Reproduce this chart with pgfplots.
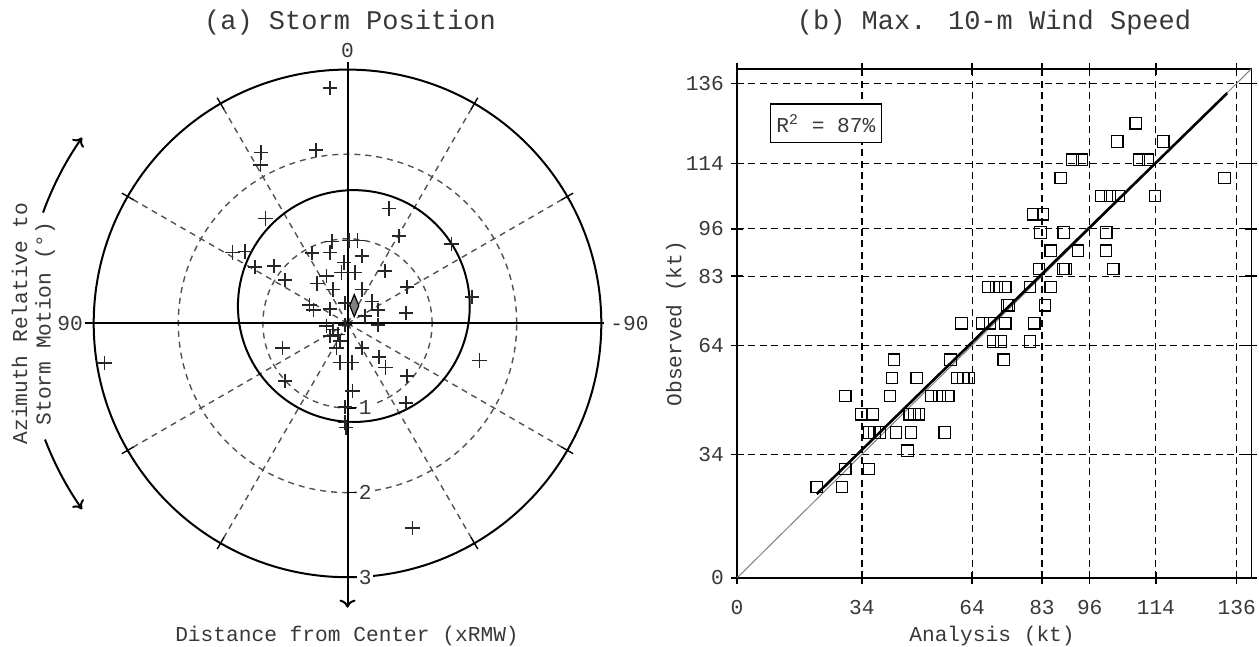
\documentclass[border=0pt]{standalone}
\usepackage{fontspec}
\setmainfont{Liberation Mono}
\usepackage{pgfplots}
\pgfplotsset{compat=1.18}
\usetikzlibrary{arrows.meta}

\newcommand\lbl{\fontsize{10.6pt}{11.7pt}\selectfont}
\newcommand\ttl{\fontsize{13.5pt}{15pt}\selectfont}
\definecolor{txt}{gray}{0.22}
\definecolor{grd}{gray}{0.32}

% storm centre positions relative to storm motion (x, y in RMW units)
\pgfplotstableread{
x y
-0.21 2.78
-1.02 2.02
-1.03 1.87
-0.37 2.05
0.49 1.36
-0.97 1.24
0.61 1.03
1.23 0.94
-1.36 0.84
-1.21 0.85
-1.09 0.67
-0.87 0.68
-0.74 0.51
1.47 0.31
-2.87 -0.47
1.56 -0.44
0.77 -2.42
-0.77 -0.29
-0.74 -0.68
0.70 -0.62
0.69 -0.94
0.70 0.43
0.69 0.12
0.44 0.62
-0.18 0.97
0.02 0.98
0.12 0.98
-0.21 0.84
-0.42 0.83
0.17 0.80
-0.04 0.72
-0.07 0.60
0.09 0.60
-0.25 0.56
-0.36 0.47
-0.17 0.40
0.17 0.40
-0.45 0.22
-0.40 0.16
-0.21 0.17
-0.03 0.24
0.29 0.26
0.36 0.16
0.21 0.09
0.36 -0.02
-0.25 -0.03
-0.17 -0.07
-0.11 -0.13
-0.21 -0.15
-0.09 -0.21
-0.13 -0.29
-0.03 -0.02
0.17 -0.29
0.37 -0.40
0.45 -0.52
-0.09 -0.46
0.05 -0.46
0.06 -0.80
-0.03 -0.99
-0.03 -1.17
-0.02 -1.23
}\positions

% maximum 10-m wind speed: analysis vs observed (kt)
\pgfplotstableread{
ana obs
21.7 25
28.6 25
29.5 30
35.9 30
46.4 35
36.0 40
37.4 40
38.8 40
43.3 40
47.4 40
56.5 40
33.8 45
37.0 45
47.0 45
48.3 45
49.5 45
29.5 50
41.6 50
52.9 50
55.1 50
57.5 50
42.2 55
48.9 55
60.0 55
61.6 55
63.0 55
42.7 60
58.1 60
72.6 60
69.7 65
71.9 65
79.7 65
61.1 70
66.8 70
68.9 70
73.0 70
80.9 70
73.5 75
74.0 75
83.8 75
68.4 80
70.6 80
73.0 80
79.7 80
85.4 80
82.2 85
88.8 85
89.4 85
102.4 85
85.4 90
92.8 90
100.4 90
82.6 95
88.9 95
100.5 95
80.6 100
83.3 100
99.1 105
101.5 105
103.8 105
113.8 105
88.1 110
132.7 110
91.3 115
93.9 115
109.4 115
111.9 115
103.5 120
116.0 120
108.5 125
}\winds

\begin{document}
\begin{tikzpicture}
\useasboundingbox (0pt,0pt) rectangle (629.5pt,323.5pt);

% ---------------- (a) storm position ----------------
\begin{axis}[
  hide axis, clip=false,
  x=42.3pt, y=42.3pt,
  xmin=-3.5, xmax=3.5, ymin=-3.5, ymax=3.5,
  anchor=center, at={(173.75pt,161.8pt)},
]
% range rings
\draw[grd, line width=0.7pt, dash pattern=on 3pt off 2.5pt] (axis cs:0,0) circle[radius=1];
\draw[grd, line width=0.7pt, dash pattern=on 3pt off 2.5pt] (axis cs:0,0) circle[radius=2];
\draw[black, line width=1pt] (axis cs:0,0) circle[radius=3];
% spokes every 30 degrees
\pgfplotsinvokeforeach{30,60,120,150,210,240,300,330}{
  \draw[grd, line width=0.7pt, dash pattern=on 3pt off 2.5pt]
    (axis cs:0,0) -- (axis cs:{3*cos(#1)},{3*sin(#1)});
  \draw[black, line width=0.7pt]
    (axis cs:{2.92*cos(#1)},{2.92*sin(#1)}) -- (axis cs:{3.08*cos(#1)},{3.08*sin(#1)});
}
% circle of one mean radius about the mean position
\draw[black, line width=1pt] (axis cs:0.075,0.205) circle[radius=1.37];
% reference axes
\draw[black, line width=1pt] (axis cs:-3.10,0) -- (axis cs:3.03,0);
\draw[black, line width=1pt, -{To[length=4pt,width=8pt]}] (axis cs:0,3.09) -- (axis cs:0,-3.36);
\pgfplotsinvokeforeach{1,2,3}{
  \draw[black, line width=0.8pt] (axis cs:0,-#1) -- (axis cs:0.1,-#1)
    node[right, fill=white, inner sep=1pt, text=txt, font=\lbl] {#1};
}
\node[font=\lbl, text=txt] at (axis cs:0,3.23) {0};
\node[font=\lbl, text=txt, anchor=east, inner sep=1pt] at (axis cs:-3.10,0) {90};
\node[font=\lbl, text=txt, anchor=west, inner sep=1pt] at (axis cs:3.08,0) {-90};

\addplot[only marks, mark=+, mark size=3.6pt, black!85,
  mark options={line width=0.8pt}] table[x=x, y=y] {\positions};
\addplot[only marks, mark=diamond*, mark size=5.5pt,
  mark options={xscale=0.55, fill=gray, draw=black, line width=0.6pt}]
  coordinates {(0.08,0.21)};
\end{axis}

% azimuth arrows
\draw[black, line width=1pt, -{To[length=4pt,width=7pt]}]
  ({173.75pt+162pt*cos(160)},{161.8pt+162pt*sin(160)}) arc[start angle=160, end angle=145, radius=162pt];
\draw[black, line width=1pt, -{To[length=4pt,width=7pt]}]
  ({173.75pt+162pt*cos(201)},{161.8pt+162pt*sin(201)}) arc[start angle=201, end angle=215, radius=162pt];

\node[font=\ttl, text=txt] at (175pt,312.3pt) {(a) Storm Position};
\node[font=\lbl, text=txt] at (173.5pt,5.5pt) {Distance from Center (xRMW)};
\node[font=\lbl, text=txt, rotate=90, align=center] at (16.7pt,161.75pt)
  {Azimuth Relative to\\Storm Motion (°)};

% ---------------- (b) maximum wind speed ----------------
\begin{axis}[
  at={(368.5pt,34.5pt)}, anchor=south west,
  scale only axis, width=257.2pt, height=254.6pt,
  xmin=0, xmax=140, ymin=0, ymax=140,
  xtick={0,34,64,83,96,114,136}, ytick={0,34,64,83,96,114,136},
  grid=major,
  major grid style={black, line width=0.6pt, dash pattern=on 3.5pt off 2.2pt},
  axis line style={line width=0.8pt},
  tick align=center, major tick length=6pt,
  tick style={black, line width=0.7pt},
  ticklabel style={font=\lbl, text=txt},
  xticklabel style={yshift=-4.5pt},
  /pgf/number format/assume math mode=true,
]
\addplot[gray, line width=0.5pt] coordinates {(0,0) (140,140)};
\addplot[black, line width=1.3pt] coordinates {(21.7,23.1) (133.4,133.3)};
\addplot[only marks, mark=square, mark size=2.85pt, black,
  mark options={line width=0.6pt}] table[x=ana, y=obs] {\winds};
\node[draw=black, line width=0.7pt, fill=white, font=\lbl, text=txt,
  minimum width=55.5pt, minimum height=19.4pt, inner sep=0pt]
  at (axis cs:24.2,125) {R\textsuperscript{2} = 87\%};
\end{axis}

\node[font=\ttl, text=txt] at (497pt,312.3pt) {(b) Max. 10-m Wind Speed};
\node[font=\lbl, text=txt] at (496pt,5.5pt) {Analysis (kt)};
\node[font=\lbl, text=txt, rotate=90] at (338pt,161.7pt) {Observed (kt)};
\end{tikzpicture}
\end{document}
